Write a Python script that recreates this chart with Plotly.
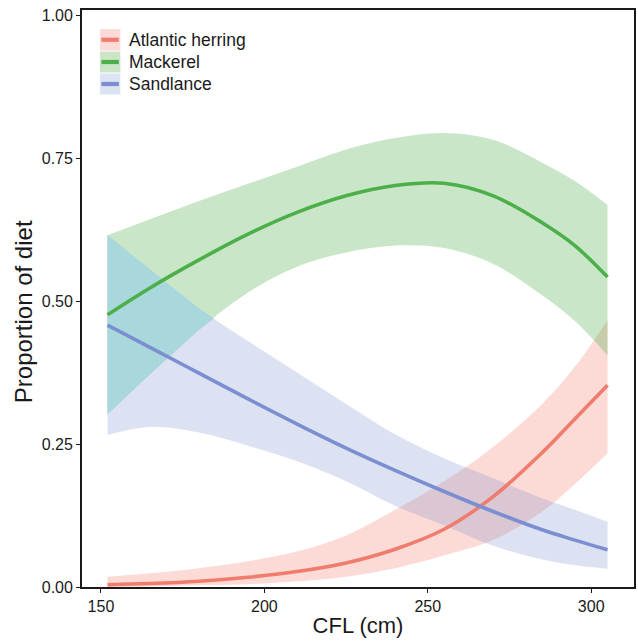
import numpy as np
import plotly.graph_objects as go

# ---- data ----
cfl = [152, 165, 180, 195, 210, 225, 240, 255, 270, 285, 295, 305]

herring_mean  = [0.004, 0.006, 0.010, 0.017, 0.027, 0.042, 0.066, 0.101, 0.158, 0.235, 0.294, 0.353]
herring_upper = [0.018, 0.024, 0.033, 0.045, 0.062, 0.090, 0.135, 0.185, 0.245, 0.320, 0.385, 0.467]
herring_lower = [0.000, 0.001, 0.003, 0.005, 0.010, 0.018, 0.033, 0.055, 0.082, 0.132, 0.180, 0.234]

mackerel_mean  = [0.476, 0.523, 0.572, 0.617, 0.655, 0.684, 0.702, 0.706, 0.684, 0.637, 0.597, 0.542]
mackerel_upper = [0.615, 0.643, 0.675, 0.705, 0.735, 0.765, 0.785, 0.794, 0.782, 0.742, 0.710, 0.668]
mackerel_lower = [0.302, 0.372, 0.450, 0.515, 0.560, 0.585, 0.597, 0.593, 0.565, 0.510, 0.465, 0.405]

sandlance_mean  = [0.458, 0.419, 0.374, 0.329, 0.285, 0.243, 0.204, 0.167, 0.132, 0.100, 0.082, 0.065]
sandlance_upper = [0.615, 0.555, 0.487, 0.430, 0.375, 0.320, 0.267, 0.225, 0.190, 0.155, 0.135, 0.114]
sandlance_lower = [0.266, 0.280, 0.270, 0.247, 0.220, 0.185, 0.142, 0.108, 0.072, 0.048, 0.038, 0.032]

series_names = ["Atlantic herring", "Mackerel", "Sandlance"]
x_ticks = [150, 200, 250, 300]
y_ticks = [0.0, 0.25, 0.5, 0.75, 1.0]
y_tick_labels = ["0.00", "0.25", "0.50", "0.75", "1.00"]
x_title = "CFL (cm)"
y_title = "Proportion of diet"

# ---- styles ----
line_colors = ["#F07C6E", "#4DAF4A", "#7B8FD0"]
fill_colors = ["rgba(243,118,105,0.27)", "rgba(77,175,74,0.30)", "rgba(123,143,208,0.26)"]
legend_fill = ["#FADBD8", "#CCE5C7", "#DCE3F2"]
teal = "#A9D8DC"
FONT = "Liberation Sans, Arial, Helvetica, sans-serif"

W, H = 638, 644
ML, MR, MT, MB = 82, 2, 10, 57

fig = go.Figure()

bands = [(herring_lower, herring_upper), (mackerel_lower, mackerel_upper),
         (sandlance_lower, sandlance_upper)]
means = [herring_mean, mackerel_mean, sandlance_mean]

for (lo, up), fc, name in zip(bands, fill_colors, series_names):
    fig.add_trace(go.Scatter(x=cfl, y=lo, mode="lines", line=dict(width=0, shape="spline"),
                             showlegend=False, hoverinfo="skip"))
    fig.add_trace(go.Scatter(x=cfl, y=up, mode="lines", line=dict(width=0, shape="spline"),
                             fill="tonexty", fillcolor=fc, showlegend=False,
                             name=name + " CI", hoverinfo="skip"))

# overlap of mackerel and sandlance intervals (teal region on the left)
mu = np.array(mackerel_lower)
su = np.array(sandlance_upper)
xs = np.array(cfl, dtype=float)
d = su - mu
k = int(np.argmax(d < 0))  # first index where intervals no longer overlap
t = d[k - 1] / (d[k - 1] - d[k])
xc = xs[k - 1] + t * (xs[k] - xs[k - 1])
yc = mu[k - 1] + t * (mu[k] - mu[k - 1])
poly_x = list(xs[:k]) + [xc] + list(xs[:k][::-1])
poly_y = list(su[:k]) + [yc] + list(mu[:k][::-1])
fig.add_trace(go.Scatter(x=poly_x, y=poly_y, mode="lines", line=dict(width=0),
                         fill="toself", fillcolor=teal, showlegend=False, hoverinfo="skip"))

for m, lc, name in zip(means, line_colors, series_names):
    fig.add_trace(go.Scatter(x=cfl, y=m, mode="lines", name=name,
                             line=dict(color=lc, width=3.6, shape="spline"),
                             showlegend=False))

# ---- manual legend (patch + line + text) ----
pw = W - ML - MR
ph = H - MT - MB
def px2paper(px, py):
    return (px - ML) / pw, (H - MB - py) / ph

shapes = []
annotations = []
rows = [(29, 50.5), (51.5, 72.5), (73.5, 94.5)]
for (y0, y1), lf, lc, name in zip(rows, legend_fill, line_colors, series_names):
    xa, ya = px2paper(100, y1)
    xb, yb = px2paper(120.5, y0)
    shapes.append(dict(type="rect", xref="paper", yref="paper", x0=xa, x1=xb, y0=ya, y1=yb,
                       fillcolor=lf, line=dict(width=0), layer="above"))
    ym = (y0 + y1) / 2
    xl0, yl = px2paper(101.5, ym)
    xl1, _ = px2paper(119, ym)
    shapes.append(dict(type="line", xref="paper", yref="paper", x0=xl0, x1=xl1, y0=yl, y1=yl,
                       line=dict(color=lc, width=4.2), layer="above"))
    xt, yt = px2paper(127, ym)
    annotations.append(dict(text=name, xref="paper", yref="paper", x=xt, y=yt,
                            xanchor="left", yanchor="middle", showarrow=False,
                            font=dict(family=FONT, size=17.5, color="#1a1a1a")))

# y-axis title as rotated annotation (placed slightly below the plot centre, as in the reference)
xt, yt = px2paper(23, 312)
annotations.append(dict(text=y_title, xref="paper", yref="paper", x=xt, y=yt,
                        xanchor="center", yanchor="middle", textangle=-90, showarrow=False,
                        font=dict(family=FONT, size=24, color="#1a1a1a")))

fig.update_layout(
    width=W, height=H,
    margin=dict(l=ML, r=MR, t=MT, b=MB, pad=0),
    paper_bgcolor="white", plot_bgcolor="white",
    font=dict(family=FONT, size=16, color="#1a1a1a"),
    shapes=shapes, annotations=annotations,
    showlegend=False,
)
fig.update_xaxes(
    range=[144.2, 313.1], tickvals=x_ticks, ticks="outside", ticklen=4, tickwidth=1.3,
    tickcolor="#1a1a1a", showline=True, linecolor="#1a1a1a", linewidth=1.8, mirror=True,
    showgrid=False, zeroline=False, tickfont=dict(size=16),
    title=dict(text=x_title, font=dict(size=22), standoff=4),
)
fig.update_yaxes(
    range=[0, 1.009], tickvals=y_ticks, ticktext=y_tick_labels, ticks="outside", ticklen=4,
    tickwidth=1.3, tickcolor="#1a1a1a", showline=True, linecolor="#1a1a1a", linewidth=1.8,
    mirror=True, showgrid=False, zeroline=False, tickfont=dict(size=16),
)

fig.write_html(
    "out.html",
    config={"displayModeBar": False},
    post_script="document.body.style.margin='0px';document.body.style.overflow='hidden';",
)
